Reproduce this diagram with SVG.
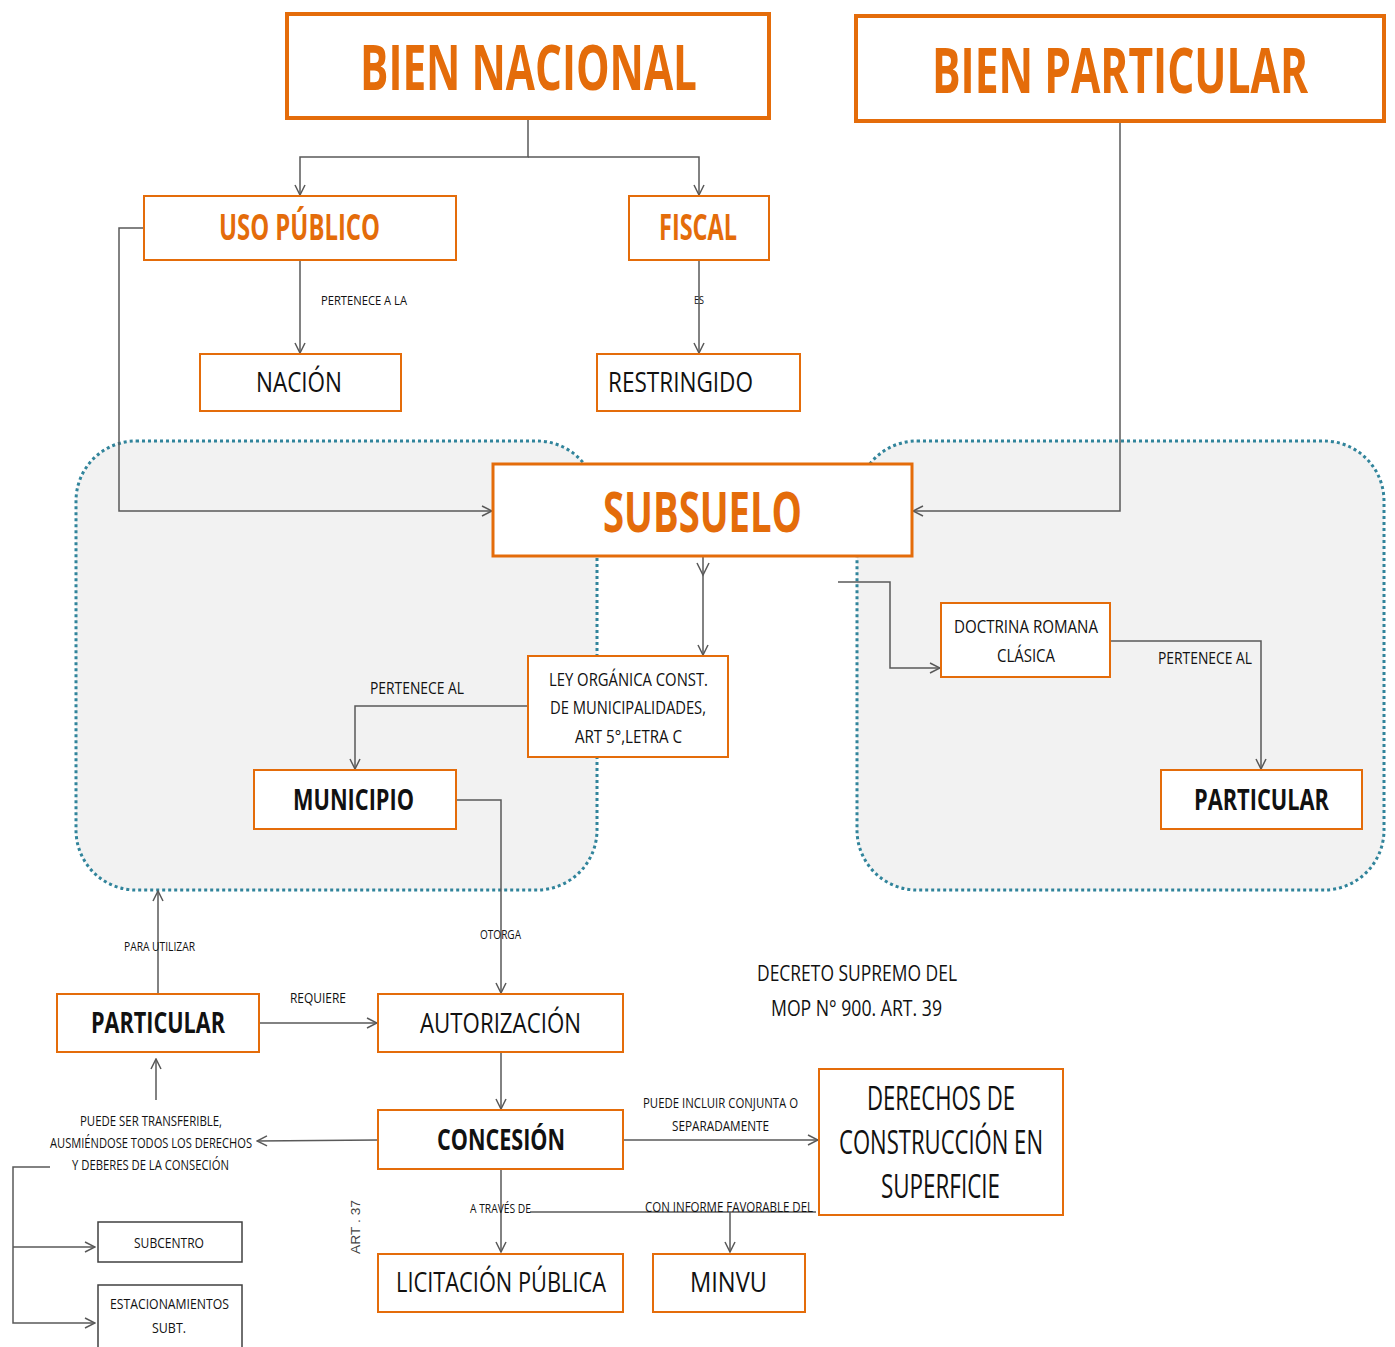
<svg xmlns="http://www.w3.org/2000/svg" width="1395" height="1347" viewBox="0 0 1395 1347">
<defs>
<style>
.box{fill:#fff;stroke:#E46C0A;stroke-width:2}
.big{fill:#fff;stroke:#E46C0A;stroke-width:4}
.mid{fill:#fff;stroke:#E46C0A;stroke-width:3}
.blk{fill:#fff;stroke:#404040;stroke-width:1.5}
.region{fill:#F2F2F2;stroke:#31849B;stroke-width:3;stroke-dasharray:3 3}
.ln{fill:none;stroke:#595959;stroke-width:1.5}
.t{font-family:"Open Sans","Liberation Sans",sans-serif;fill:#111}
.o{font-family:"Open Sans","Liberation Sans",sans-serif;fill:#E46C0A;font-weight:bold}
.b{font-weight:bold}
</style>
<marker id="arr" viewBox="0 0 12 12" refX="11" refY="6" markerWidth="12" markerHeight="12" orient="auto" markerUnits="userSpaceOnUse">
<path d="M1,1 L11,6 L1,11" fill="none" stroke="#595959" stroke-width="1.5"/>
</marker>
</defs>
<rect width="1395" height="1347" fill="#fff"/>

<g id="regions">
<rect class="region" x="76" y="441" width="521" height="449" rx="60"/>
<rect class="region" x="857" y="441" width="527" height="449" rx="60"/>
</g>

<g id="connectors">
<path class="ln" d="M528,118 V157 H300 V195" marker-end="url(#arr)"/>
<path class="ln" d="M528,157 H699 V195" marker-end="url(#arr)"/>
<path class="ln" d="M300,260 V353" marker-end="url(#arr)"/>
<path class="ln" d="M699,260 V353" marker-end="url(#arr)"/>
<path class="ln" d="M144,228 H119 V511 H492" marker-end="url(#arr)"/>
<path class="ln" d="M1120,121 V511 H913" marker-end="url(#arr)"/>
<path class="ln" d="M703,556 V655" marker-end="url(#arr)"/>
<path class="ln" d="M697,563 L703,575 L709,563"/>
<path class="ln" d="M838,582 H890 V668 H940" marker-end="url(#arr)"/>
<path class="ln" d="M528,706 H355 V769" marker-end="url(#arr)"/>
<path class="ln" d="M1110,641 H1261 V769" marker-end="url(#arr)"/>
<path class="ln" d="M456,800 H501 V993" marker-end="url(#arr)"/>
<path class="ln" d="M158,994 V891" marker-end="url(#arr)"/>
<path class="ln" d="M259,1023 H377" marker-end="url(#arr)"/>
<path class="ln" d="M501,1052 V1109" marker-end="url(#arr)"/>
<path class="ln" d="M378,1140 L257,1141" marker-end="url(#arr)"/>
<path class="ln" d="M156,1100 V1059" marker-end="url(#arr)"/>
<path class="ln" d="M50,1167 H13 V1323 H95" marker-end="url(#arr)"/>
<path class="ln" d="M13,1247 H95" marker-end="url(#arr)"/>
<path class="ln" d="M623,1140 H818" marker-end="url(#arr)"/>
<path class="ln" d="M501,1169 V1252" marker-end="url(#arr)"/>
<path class="ln" d="M530,1212 H816"/>
<path class="ln" d="M730,1212 V1252" marker-end="url(#arr)"/>
</g>

<g id="labels">
<text class="t" x="321" y="305" font-size="13" textLength="86" lengthAdjust="spacingAndGlyphs">PERTENECE A LA</text>
<text class="t" x="694" y="304" font-size="11" textLength="10" lengthAdjust="spacingAndGlyphs">ES</text>
<text class="t" x="370" y="694" font-size="16" textLength="94" lengthAdjust="spacingAndGlyphs">PERTENECE AL</text>
<text class="t" x="1158" y="664" font-size="16" textLength="94" lengthAdjust="spacingAndGlyphs">PERTENECE AL</text>
<text class="t" x="124" y="951" font-size="12" textLength="71" lengthAdjust="spacingAndGlyphs">PARA UTILIZAR</text>
<text class="t" x="480" y="939" font-size="12" textLength="41" lengthAdjust="spacingAndGlyphs">OTORGA</text>
<text class="t" x="290" y="1003" font-size="14" textLength="56" lengthAdjust="spacingAndGlyphs">REQUIERE</text>
<text class="t" x="80" y="1126" font-size="14" textLength="142" lengthAdjust="spacingAndGlyphs">PUEDE SER TRANSFERIBLE,</text>
<text class="t" x="50" y="1148" font-size="14" textLength="202" lengthAdjust="spacingAndGlyphs">AUSMIÉNDOSE TODOS LOS DERECHOS</text>
<text class="t" x="72" y="1170" font-size="14" textLength="157" lengthAdjust="spacingAndGlyphs">Y DEBERES DE LA CONSECIÓN</text>
<text class="t" x="643" y="1108" font-size="14" textLength="155" lengthAdjust="spacingAndGlyphs">PUEDE INCLUIR CONJUNTA O</text>
<text class="t" x="672" y="1131" font-size="14" textLength="97" lengthAdjust="spacingAndGlyphs">SEPARADAMENTE</text>
<text class="t" x="470" y="1213" font-size="12" textLength="61" lengthAdjust="spacingAndGlyphs">A TRAVÉS DE</text>
<text class="t" x="645" y="1212" font-size="15" textLength="168" lengthAdjust="spacingAndGlyphs">CON INFORME FAVORABLE DEL</text>
<text class="t" x="757" y="981" font-size="22" textLength="200" lengthAdjust="spacingAndGlyphs">DECRETO SUPREMO DEL</text>
<text class="t" x="771" y="1016" font-size="22" textLength="171" lengthAdjust="spacingAndGlyphs">MOP N° 900. ART. 39</text>
<text x="0" y="0" font-family="'Liberation Sans',Arial,sans-serif" font-size="13" fill="#444" transform="translate(360,1254) rotate(-90)" textLength="54" lengthAdjust="spacingAndGlyphs">ART . 37</text>
</g>

<g id="bien-nacional">
<rect class="big" x="287" y="14" width="482" height="104"/>
<text class="o" x="0" y="0" font-size="44" transform="translate(360,90) scale(1,1.41)" textLength="337" lengthAdjust="spacingAndGlyphs">BIEN NACIONAL</text>
</g>
<g id="bien-particular">
<rect class="big" x="856" y="16" width="528" height="105"/>
<text class="o" x="0" y="0" font-size="44" transform="translate(932,93) scale(1,1.41)" textLength="376" lengthAdjust="spacingAndGlyphs">BIEN PARTICULAR</text>
</g>
<g id="uso-publico">
<rect class="box" x="144" y="196" width="312" height="64"/>
<text class="o" x="219" y="240" font-size="35" textLength="161" lengthAdjust="spacingAndGlyphs">USO PÚBLICO</text>
</g>
<g id="fiscal">
<rect class="box" x="629" y="196" width="140" height="64"/>
<text class="o" x="659" y="240" font-size="35" textLength="78" lengthAdjust="spacingAndGlyphs">FISCAL</text>
</g>
<g id="nacion">
<rect class="box" x="200" y="354" width="201" height="57"/>
<text class="t" x="256" y="392" font-size="28" textLength="86" lengthAdjust="spacingAndGlyphs">NACIÓN</text>
</g>
<g id="restringido">
<rect class="box" x="597" y="354" width="203" height="57"/>
<text class="t" x="608" y="392" font-size="28" textLength="145" lengthAdjust="spacingAndGlyphs">RESTRINGIDO</text>
</g>
<g id="subsuelo">
<rect class="mid" x="493" y="464" width="419" height="92"/>
<text class="o" x="603" y="532" font-size="55" textLength="199" lengthAdjust="spacingAndGlyphs">SUBSUELO</text>
</g>
<g id="ley-organica">
<rect class="box" x="528" y="656" width="200" height="101"/>
<text class="t" x="549" y="686" font-size="19" textLength="159" lengthAdjust="spacingAndGlyphs">LEY ORGÁNICA CONST.</text>
<text class="t" x="550" y="714" font-size="19" textLength="156" lengthAdjust="spacingAndGlyphs">DE MUNICIPALIDADES,</text>
<text class="t" x="575" y="743" font-size="19" textLength="107" lengthAdjust="spacingAndGlyphs">ART 5°,LETRA C</text>
</g>
<g id="municipio">
<rect class="box" x="254" y="770" width="202" height="59"/>
<text class="t b" x="293" y="810" font-size="28" textLength="121" lengthAdjust="spacingAndGlyphs">MUNICIPIO</text>
</g>
<g id="doctrina">
<rect class="box" x="941" y="603" width="169" height="74"/>
<text class="t" x="954" y="633" font-size="19" textLength="144" lengthAdjust="spacingAndGlyphs">DOCTRINA ROMANA</text>
<text class="t" x="997" y="662" font-size="19" textLength="58" lengthAdjust="spacingAndGlyphs">CLÁSICA</text>
</g>
<g id="particular-derecha">
<rect class="box" x="1161" y="770" width="201" height="59"/>
<text class="t b" x="1194" y="810" font-size="28" textLength="135" lengthAdjust="spacingAndGlyphs">PARTICULAR</text>
</g>
<g id="particular-izquierda">
<rect class="box" x="57" y="994" width="202" height="58"/>
<text class="t b" x="91" y="1033" font-size="28" textLength="134" lengthAdjust="spacingAndGlyphs">PARTICULAR</text>
</g>
<g id="autorizacion">
<rect class="box" x="378" y="994" width="245" height="58"/>
<text class="t" x="420" y="1033" font-size="28" textLength="161" lengthAdjust="spacingAndGlyphs">AUTORIZACIÓN</text>
</g>
<g id="concesion">
<rect class="box" x="378" y="1110" width="245" height="59"/>
<text class="t b" x="437" y="1150" font-size="28" textLength="128" lengthAdjust="spacingAndGlyphs">CONCESIÓN</text>
</g>
<g id="derechos">
<rect class="box" x="819" y="1069" width="244" height="146"/>
<text class="t" x="867" y="1110" font-size="32" textLength="148" lengthAdjust="spacingAndGlyphs">DERECHOS DE</text>
<text class="t" x="839" y="1154" font-size="32" textLength="204" lengthAdjust="spacingAndGlyphs">CONSTRUCCIÓN EN</text>
<text class="t" x="881" y="1198" font-size="32" textLength="119" lengthAdjust="spacingAndGlyphs">SUPERFICIE</text>
</g>
<g id="licitacion">
<rect class="box" x="378" y="1254" width="245" height="58"/>
<text class="t" x="396" y="1292" font-size="28" textLength="210" lengthAdjust="spacingAndGlyphs">LICITACIÓN PÚBLICA</text>
</g>
<g id="minvu">
<rect class="box" x="653" y="1254" width="152" height="58"/>
<text class="t" x="690" y="1292" font-size="28" textLength="77" lengthAdjust="spacingAndGlyphs">MINVU</text>
</g>
<g id="subcentro">
<rect class="blk" x="98" y="1222" width="144" height="40"/>
<text class="t" x="134" y="1248" font-size="14" textLength="70" lengthAdjust="spacingAndGlyphs">SUBCENTRO</text>
</g>
<g id="estacionamientos">
<rect class="blk" x="98" y="1285" width="144" height="70"/>
<text class="t" x="110" y="1309" font-size="14" textLength="119" lengthAdjust="spacingAndGlyphs">ESTACIONAMIENTOS</text>
<text class="t" x="152" y="1333" font-size="14" textLength="34" lengthAdjust="spacingAndGlyphs">SUBT.</text>
</g>
</svg>
